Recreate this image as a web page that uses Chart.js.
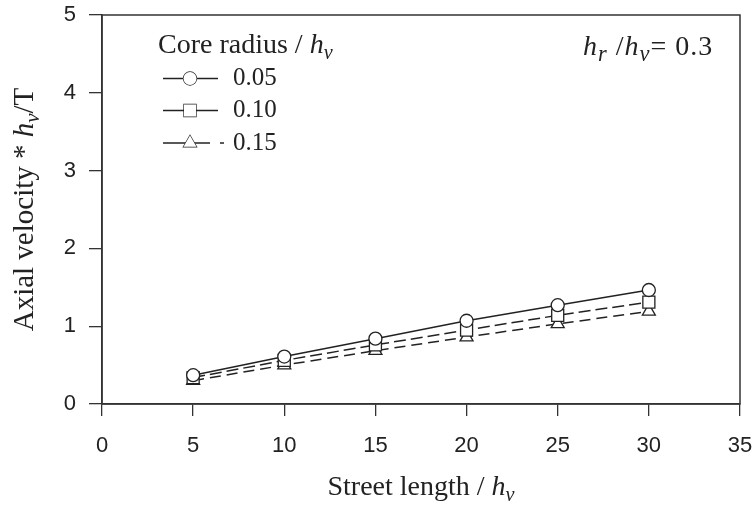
<!DOCTYPE html>
<html>
<head>
<meta charset="utf-8">
<script src="https://cdn.jsdelivr.net/npm/chart.js@4.4.1/dist/chart.umd.min.js"></script>
<style>
html,body{margin:0;padding:0;background:#fff;}
#wrap{width:754px;height:507px;position:relative;}
</style>
</head>
<body>
<div id="wrap"><canvas id="c" width="754" height="507"></canvas></div>
<script>
const streetLength = [5, 10, 15, 20, 25, 30];
const coreRadii = ['0.05', '0.10', '0.15'];
const vel005 = [0.37, 0.61, 0.84, 1.07, 1.27, 1.465];
const vel010 = [0.34, 0.56, 0.76, 0.95, 1.14, 1.31];
const vel015 = [0.30, 0.50, 0.685, 0.86, 1.03, 1.19];
const xTicks = [0, 5, 10, 15, 20, 25, 30, 35];
const yTicks = [0, 1, 2, 3, 4, 5];

const SERIF = '"Liberation Serif", "DejaVu Serif", serif';
const SANS = '"Liberation Sans", Arial, sans-serif';
const INK = '#222';

function pts(vals){ return streetLength.map((x,i)=>({x:x, y:vals[i]})); }

const styles = [
  {pointStyle:'circle', radius:6.5, dash:[]},
  {pointStyle:'rect', radius:8.5, dash:[12,5]},
  {pointStyle:'triangle', radius:7.5, dash:[11,6]}
];
const seriesVals = [vel005, vel010, vel015];

const datasets = seriesVals.map((v,i)=>({
  label: coreRadii[i],
  data: pts(v),
  borderColor: INK,
  borderWidth: 1.5,
  borderDash: styles[i].dash,
  pointStyle: styles[i].pointStyle,
  pointRadius: styles[i].radius,
  pointHoverRadius: styles[i].radius,
  pointBackgroundColor: '#fff',
  pointBorderColor: INK,
  pointBorderWidth: 1.3,
  fill: false,
  tension: 0
}));

function richWidth(ctx, segs, size, subScale){
  let w = 0;
  segs.forEach(s=>{
    const fs = s.sub ? size*subScale : size;
    ctx.font = (s.it?'italic ':'') + fs + 'px ' + SERIF;
    w += ctx.measureText(s.t).width;
  });
  return w;
}
function drawRich(ctx, segs, x, y, size, align, subScale){
  subScale = subScale || 0.72;
  let w = richWidth(ctx, segs, size, subScale);
  let cx = align==='center' ? x - w/2 : x;
  ctx.textBaseline = 'alphabetic';
  ctx.textAlign = 'left';
  segs.forEach(s=>{
    const fs = s.sub ? size*subScale : size;
    ctx.font = (s.it?'italic ':'') + fs + 'px ' + SERIF;
    ctx.fillText(s.t, cx, y + (s.sub ? size*0.22 : 0));
    cx += ctx.measureText(s.t).width;
  });
}

const decor = {
  id:'decor',
  afterDraw(chart){
    const ctx = chart.ctx, a = chart.chartArea;
    ctx.save();
    ctx.strokeStyle = '#333';
    ctx.lineWidth = 1.5;
    ctx.strokeRect(a.left, a.top, a.right-a.left, a.bottom-a.top);
    ctx.fillStyle = INK;
    // x title
    drawRich(ctx, [{t:'Street length / '},{t:'h',it:true},{t:'ν',it:true,sub:true}],
      (a.left+a.right)/2, 495, 28, 'center');
    // y title
    ctx.save();
    ctx.translate(33, (a.top+a.bottom)/2);
    ctx.rotate(-Math.PI/2);
    drawRich(ctx, [{t:'Axial velocity * '},{t:'h',it:true},{t:'ν',it:true,sub:true},{t:'/T'}],
      0, 0, 29, 'center');
    ctx.restore();
    // annotation
    ctx.save();
    ctx.letterSpacing = '1px';
    drawRich(ctx, [{t:'h',it:true},{t:'r',it:true,sub:true},{t:' /'},{t:'h',it:true},{t:'ν',it:true,sub:true},{t:'= 0.3'}],
      583, 55, 28, 'left', 0.8);
    ctx.restore();
    // legend
    drawRich(ctx, [{t:'Core radius / '},{t:'h',it:true},{t:'ν',it:true,sub:true}], 158, 53, 28, 'left');
    const rows = [78.5, 110.5, 143];
    const segs = [
      [[163,218]],
      [[163,218]],
      [[163,210],[220,224]]
    ];
    chart.data.datasets.forEach((ds,i)=>{
      const y = rows[i];
      ctx.save();
      ctx.strokeStyle = INK;
      ctx.lineWidth = 1.5;
      segs[i].forEach(s=>{ ctx.beginPath(); ctx.moveTo(s[0], y); ctx.lineTo(s[1], y); ctx.stroke(); });
      ctx.fillStyle = '#fff';
      ctx.strokeStyle = INK;
      ctx.lineWidth = 1.3;
      Chart.helpers.drawPoint(ctx, {pointStyle: ds.pointStyle, radius: ds.pointRadius, borderWidth: 1.3, rotation: 0}, 190, y);
      ctx.fill();
      ctx.restore();
      ctx.fillStyle = INK;
      ctx.font = '25px ' + SERIF;
      ctx.textBaseline = 'middle';
      ctx.textAlign = 'left';
      ctx.fillText(ds.label, 233, y);
    });
    ctx.restore();
  }
};

new Chart(document.getElementById('c'), {
  type: 'line',
  data: { datasets },
  plugins: [decor],
  options: {
    responsive: false,
    animation: false,
    events: [],
    layout: { padding: { left: 0, top: 15, right: 14, bottom: 0 } },
    plugins: { legend: { display: false }, tooltip: { enabled: false }, title: { display: false } },
    scales: {
      x: {
        type: 'linear', min: 0, max: 35,
        afterBuildTicks: s => { s.ticks = xTicks.map(v=>({value:v})); },
        afterFit: s => { s.height = 103; s.paddingLeft = 0; s.paddingRight = 0; },
        ticks: { color: INK, font: { family: SANS, size: 22 }, padding: 17, maxRotation: 0, autoSkip: false },
        grid: { drawOnChartArea: false, drawTicks: true, tickLength: 12, color: '#333', lineWidth: 1.3 },
        border: { display: true, color: '#333', width: 1.5 }
      },
      y: {
        type: 'linear', min: 0, max: 5,
        afterBuildTicks: s => { s.ticks = yTicks.map(v=>({value:v})); },
        afterFit: s => { s.width = 102; s.paddingTop = 0; s.paddingBottom = 0; },
        ticks: { color: INK, font: { family: SANS, size: 22 }, padding: 13, autoSkip: false },
        grid: { drawOnChartArea: false, drawTicks: true, tickLength: 13, color: '#333', lineWidth: 1.3 },
        border: { display: true, color: '#333', width: 1.5 }
      }
    }
  }
});
</script>
</body>
</html>
